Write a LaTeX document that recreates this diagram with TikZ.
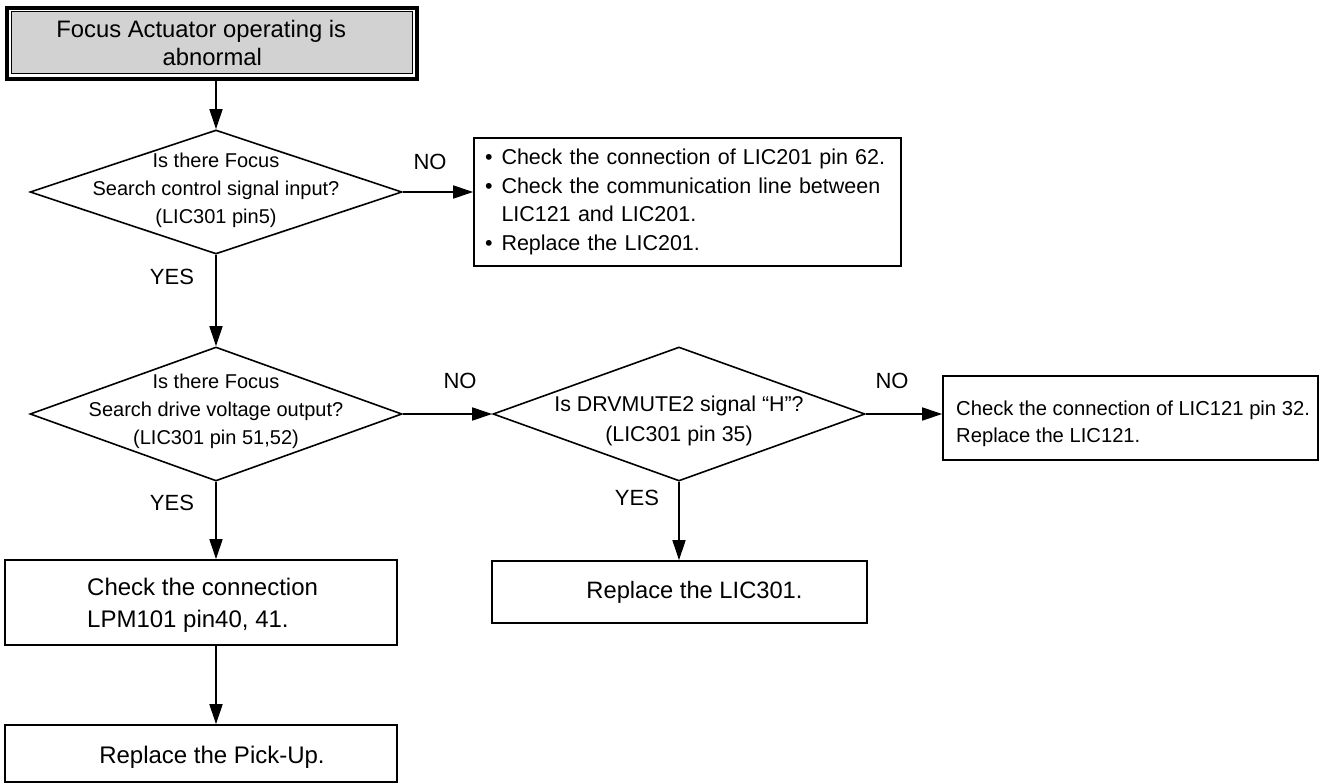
\documentclass[tikz,border=0pt]{standalone}
\usepackage{fontspec}
\setmainfont{Liberation Sans}
\usetikzlibrary{shapes.geometric,arrows.meta}
\begin{document}
\begin{tikzpicture}[x=1pt,y=-1pt,
  box/.style={draw,line width=1.6pt,inner sep=0pt,align=left},
  txt/.style={inner sep=0pt,align=left},
  dia/.style={draw,diamond,line width=1.6pt,inner sep=0pt,minimum width=372pt},
  dtext/.style={align=center,font=\fontsize{20}{28}\selectfont,inner sep=0pt},
  lbl/.style={font=\fontsize{22}{26}\selectfont,inner sep=0pt},
  arr/.style={line width=1.5pt,-{Triangle[length=20pt,width=13pt]}},
]
\useasboundingbox (0,0) rectangle (1320,784);

% title
\node[draw,line width=4pt,minimum width=410.8pt,minimum height=70.7pt,inner sep=0pt] (title) at (212,43.6) {};
\node[draw,line width=1pt,fill=gray!35,minimum width=401pt,minimum height=62pt,inner sep=0pt,align=center,
      font=\fontsize{23.8}{28}\selectfont] (titlein) at (212.3,42.5)
      {Focus Actuator operating is\hspace*{22pt}\\abnormal};

% diamonds
\node[dia,minimum height=124pt] (d1) at (216,192) {};
\node[dtext] (d1t) at (216,190) {Is there Focus\\Search control signal input?\\(LIC301 pin5)};

\node[dia,minimum height=134pt] (d2) at (216,414) {};
\node[dtext] (d2t) at (216,411) {Is there Focus\\Search drive voltage output?\\(LIC301 pin 51,52)};

\node[dia,minimum height=134pt] (d3) at (679,414) {};
\node[dtext,font=\fontsize{21.4}{30}\selectfont] (d3t) at (679,421) {Is DRVMUTE2 signal “H”?\\(LIC301 pin 35)};

% boxes
\node[box,minimum width=427pt,minimum height=128pt,text width=405pt,inner xsep=11pt,
      font=\fontsize{21.5}{28.5}\selectfont] (b1) at (687.5,202)
 {\begin{tabular}{@{}l@{\hspace{9pt}}l@{}}
  • & Check the connection of LIC201 pin 62.\\
  • & Check the communication line between\\
    & LIC121 and LIC201.\\
  • & Replace the LIC201.
  \end{tabular}};

\node[box,minimum width=375pt,minimum height=84pt] (b3) at (1130.5,418) {};
\node[txt,anchor=west,font=\fontsize{20.2}{27}\selectfont] (b3t) at (956,424)
 {Check the connection of LIC121 pin 32.\\Replace the LIC121.};

\node[box,align=center,minimum width=375pt,minimum height=62pt,font=\fontsize{23.7}{28}\selectfont] (b4) at (679.5,592)
 {\hspace*{30pt}Replace the LIC301.};

\node[box,minimum width=392pt,minimum height=85pt] (b5) at (201,602.5) {};
\node[txt,anchor=west,font=\fontsize{24}{32}\selectfont] (b5t) at (87,605)
 {Check the connection\\LPM101 pin40, 41.};

\node[box,minimum width=392pt,minimum height=57pt] (b6) at (201,753.5) {};
\node[txt,font=\fontsize{24}{28}\selectfont] (b6t) at (212,757) {Replace the Pick-Up.};

% connectors
\draw[arr] (d1.north |- title.south) -- (d1.north);
\draw[arr] (d1.east) -- (d1.east -| b1.west);
\draw[arr] (d1.south) -- (d2.north);
\draw[arr] (d2.east) -- (d3.west);
\draw[arr] (d3.east) -- (d3.east -| b3.west);
\draw[arr] (d2.south) -- (d2.south |- b5.north);
\draw[arr] (d3.south) -- (d3.south |- b4.north);
\draw[arr] (b5.south -| d2.south) -- (b6.north -| d2.south);

% labels
\node[lbl] (no1) at (430,162) {NO};
\node[lbl] (yes1) at (172,277) {YES};
\node[lbl] (no2) at (460,381) {NO};
\node[lbl] (yes2) at (172,503) {YES};
\node[lbl] (no3) at (892,381) {NO};
\node[lbl] (yes3) at (637,498) {YES};
\end{tikzpicture}
\end{document}
